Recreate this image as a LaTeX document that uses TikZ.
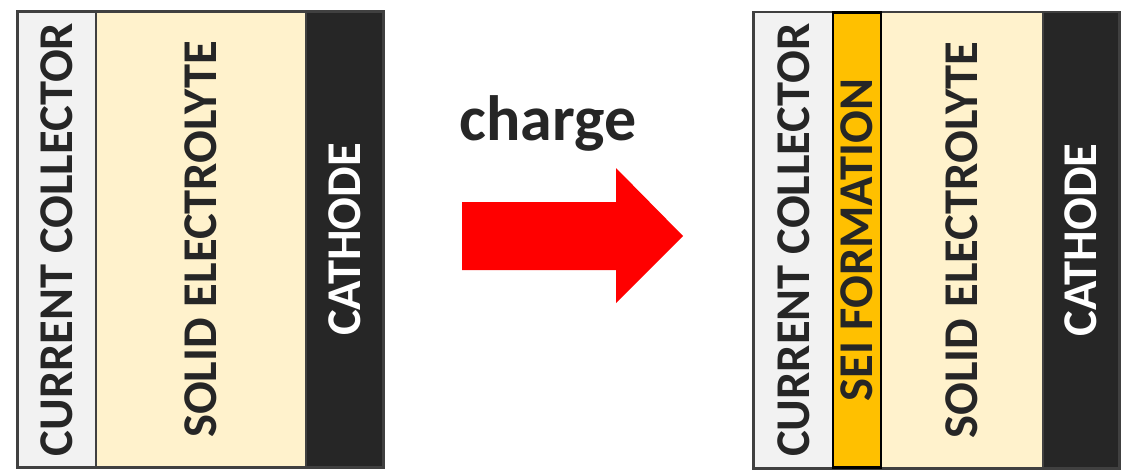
\documentclass[tikz,border=0pt]{standalone}
\usepackage{fontspec}
\setmainfont{Carlito}
\definecolor{ccfill}{HTML}{F2F2F2}
\definecolor{sefill}{HTML}{FFF2CC}
\definecolor{cathfill}{HTML}{262626}
\definecolor{seifill}{HTML}{FFC000}
\definecolor{framecol}{HTML}{404040}
\definecolor{txtcol}{HTML}{262626}
\definecolor{arrowred}{HTML}{FF0000}
\begin{document}
\begin{tikzpicture}[x=1pt,y=-1pt,
  layer/.style={rectangle, draw=framecol, line width=1.5pt, inner sep=0pt,
    minimum height=455pt, text=txtcol, font=\bfseries\fontsize{48.5}{48.5}\selectfont},
  cathodebox/.style={layer, fill=cathfill, text=white},
  frame/.style={draw=framecol, line width=2.5pt},
  seibox/.style={layer, fill=seifill, draw=black, line width=2.5pt}]
\useasboundingbox (0,0) rectangle (1122,472);
% left stack
\node[layer, fill=ccfill, minimum width=78pt] (cc1) at (57,239.5) {\rotatebox{90}{CURRENT COLLECTOR}};
\node[layer, fill=sefill, minimum width=210pt] (se1) at (201,239.5) {\rotatebox{90}{SOLID ELECTROLYTE}};
\node[cathodebox, minimum width=77pt] (ca1) at (344.5,239.5) {\rotatebox{90}{CATHODE}};
\draw[frame] (cc1.north west) rectangle (ca1.south east);
% right stack
\node[layer, fill=ccfill, minimum width=79pt] (cc2) at (793.5,240) {\rotatebox{90}{CURRENT COLLECTOR}};
\node[seibox, minimum width=48pt] (sei) at (857,240) {\rotatebox{90}{SEI FORMATION}};
\node[layer, fill=sefill, minimum width=162pt] (se2) at (962,240) {\rotatebox{90}{SOLID ELECTROLYTE}};
\node[cathodebox, minimum width=76pt] (ca2) at (1081,240) {\rotatebox{90}{CATHODE}};
\draw[frame] (cc2.north west) rectangle (ca2.south east);
\node[seibox, minimum width=48pt] at (sei) {\rotatebox{90}{SEI FORMATION}};
% arrow
\node[text=txtcol, font=\bfseries\fontsize{64}{64}\selectfont, anchor=base] (lbl) at (548,140) {charge};
\coordinate (arrtip) at (683,236);
\fill[arrowred] (462,202) -- (616,202) -- (616,168) -- (arrtip) -- (616,303) -- (616,270) -- (462,270) -- cycle;
\end{tikzpicture}
\end{document}
